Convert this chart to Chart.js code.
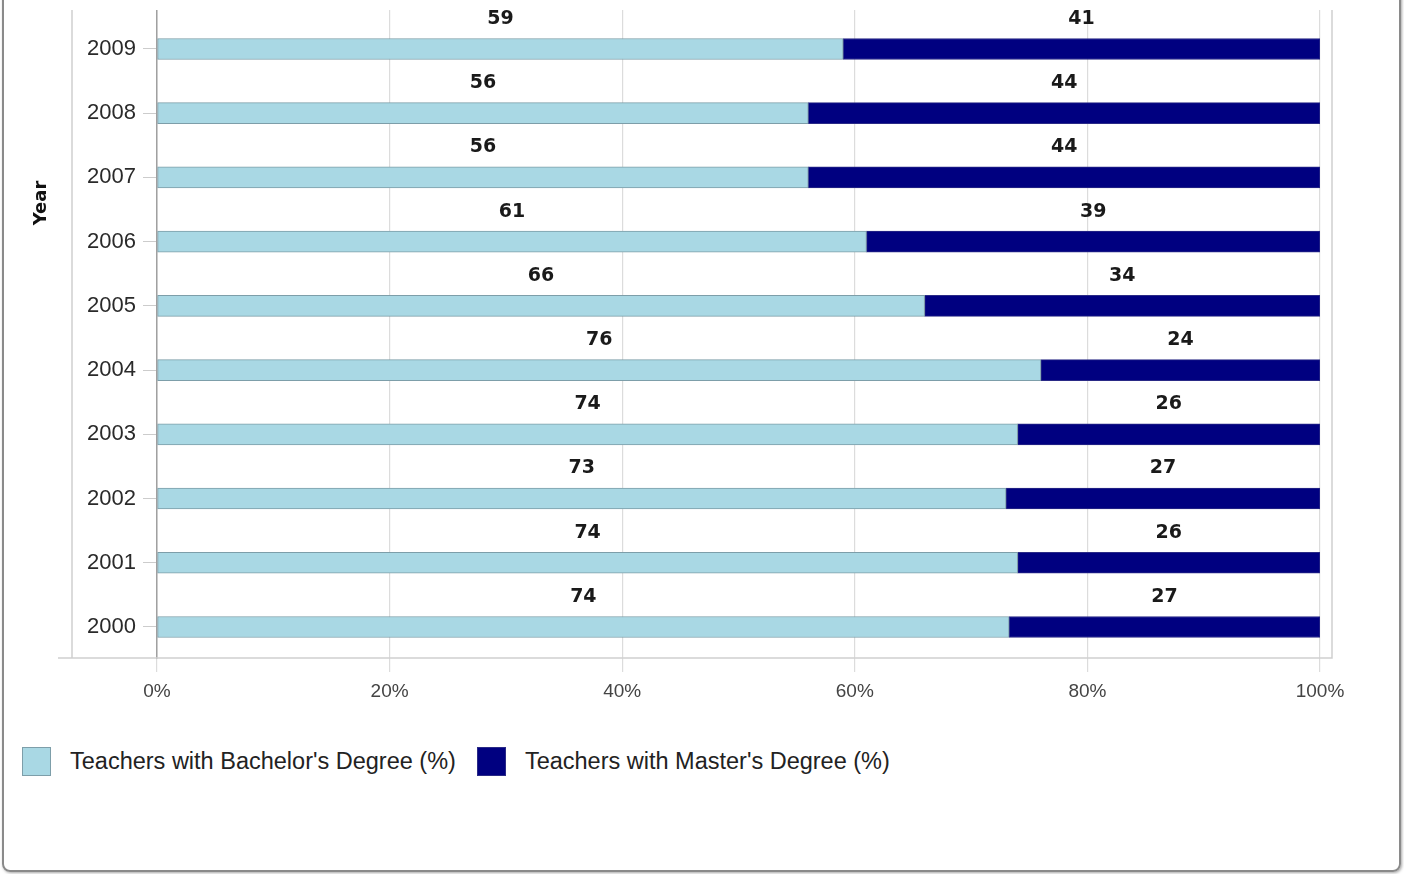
<!DOCTYPE html>
<html>
<head>
<meta charset="utf-8">
<script src="https://cdn.jsdelivr.net/npm/chart.js@4.4.0/dist/chart.umd.min.js"></script>
<style>
  html, body { margin: 0; padding: 0; background: #fff; width: 1404px; height: 874px; overflow: hidden; }
  #frame {
    position: absolute; left: 2px; top: -12px; width: 1399px; height: 884px;
    box-sizing: border-box; border: 2px solid #8a8a8a; border-radius: 8px;
    box-shadow: 1px 1px 3px rgba(0,0,0,0.35);
  }
  #wrap { position: absolute; left: 0; top: 10px; width: 1404px; height: 700px; }
  #legend {
    position: absolute; left: 22px; top: 747px; display: flex; align-items: center;
    font: 23.5px "Liberation Sans", Arial, sans-serif; color: #222;
  }
  .item { display: flex; align-items: center; margin-right: 21px; }
  .sw { width: 27px; height: 27px; margin-right: 19px; box-sizing: content-box; }
</style>
</head>
<body>
<div id="frame"></div>
<div id="wrap"><canvas id="c" width="1404" height="700"></canvas></div>
<div id="legend"></div>
<script>
// Share of teachers by highest degree, per year
const years = ['2000', '2001', '2002', '2003', '2004', '2005', '2006', '2007', '2008', '2009'];
const bachelor = [74, 74, 73, 74, 76, 66, 61, 56, 56, 59];
const master   = [27, 26, 27, 26, 24, 34, 39, 44, 44, 41];
const seriesNames = ["Teachers with Bachelor's Degree (%)", "Teachers with Master's Degree (%)"];
const xTicks = [0, 20, 40, 60, 80, 100];

// Each bar is stretched to 100%: a segment's length is its share of the year's total
function shares(values, other) {
  return values.map((v, i) => ({ x: v / (v + other[i]) * 100, y: i }));
}

const colors = {
  bachelor: { fill: '#a9d8e4', edge: '#7d9ea9' },
  master:   { fill: '#000080', edge: '#2a2a86' }
};

// Value labels sit above the middle of each segment
const valueLabels = {
  id: 'valueLabels',
  afterDatasetsDraw(chart) {
    const ctx = chart.ctx;
    const raw = [bachelor, master];
    ctx.save();
    ctx.font = 'bold 19px "DejaVu Sans", sans-serif';
    ctx.fillStyle = '#1a1a1a';
    ctx.textAlign = 'center';
    ctx.textBaseline = 'middle';
    chart.data.datasets.forEach((ds, d) => {
      chart.getDatasetMeta(d).data.forEach((bar, i) => {
        ctx.fillText(String(raw[d][i]), (bar.x + bar.base) / 2, bar.y - 30);
      });
    });
    ctx.restore();
  }
};

// Plot frame lines and the rotated "Year" axis title
const plotFrame = {
  id: 'plotFrame',
  beforeDatasetsDraw(chart) {
    const { ctx, chartArea: a } = chart;
    ctx.save();
    ctx.strokeStyle = '#cfcfcf';
    ctx.lineWidth = 1.5;
    ctx.beginPath();
    ctx.moveTo(a.left - 85, a.top);
    ctx.lineTo(a.left - 85, a.bottom);
    ctx.moveTo(a.left - 99, a.bottom);
    ctx.lineTo(a.right + 12, a.bottom);
    ctx.lineTo(a.right + 12, a.top);
    ctx.stroke();
    ctx.restore();
  },
  afterDraw(chart) {
    const { ctx, chartArea: a } = chart;
    ctx.save();
    ctx.translate(a.left - 116, a.top + 193);
    ctx.rotate(-Math.PI / 2);
    ctx.font = 'bold 18px "DejaVu Sans", sans-serif';
    ctx.fillStyle = '#111';
    ctx.textAlign = 'center';
    ctx.textBaseline = 'middle';
    ctx.fillText('Year', 0, 0);
    ctx.restore();
  }
};

const chart = new Chart(document.getElementById('c'), {
  type: 'bar',
  data: {
    datasets: [
      {
        label: seriesNames[0],
        data: shares(bachelor, master),
        backgroundColor: colors.bachelor.fill,
        borderColor: colors.bachelor.edge,
        borderWidth: 1,
        borderSkipped: false,
        barThickness: 21
      },
      {
        label: seriesNames[1],
        data: shares(master, bachelor),
        backgroundColor: colors.master.fill,
        borderColor: colors.master.edge,
        borderWidth: 1,
        borderSkipped: false,
        barThickness: 21
      }
    ]
  },
  options: {
    indexAxis: 'y',
    responsive: false,
    animation: false,
    devicePixelRatio: 1,
    layout: { padding: { left: 0, right: 84, top: 0, bottom: 0 } },
    plugins: { legend: { display: false }, tooltip: { enabled: false } },
    scales: {
      x: {
        type: 'linear',
        stacked: true,
        min: 0,
        max: 100,
        afterBuildTicks(scale) { scale.ticks = xTicks.map(v => ({ value: v })); },
        afterFit(scale) { scale.height = 52; scale.paddingLeft = 0; scale.paddingRight = 0; },
        ticks: {
          callback: v => v + '%',
          font: { family: '"Liberation Sans", Arial, sans-serif', size: 19 },
          color: '#444',
          padding: 8,
          maxRotation: 0
        },
        grid: { color: '#dcdcdc', tickLength: 14, lineWidth: 1.2 },
        border: { display: false }
      },
      y: {
        type: 'linear',
        stacked: true,
        offset: false,
        min: -0.483,
        max: 9.607,
        afterBuildTicks(scale) { scale.ticks = years.map((_, i) => ({ value: i })); },
        afterFit(scale) { scale.width = 157; scale.paddingTop = 0; scale.paddingBottom = 0; },
        ticks: {
          callback: v => years[v],
          font: { family: '"Liberation Sans", Arial, sans-serif', size: 22 },
          color: '#2a2a2a',
          padding: 7
        },
        grid: { drawOnChartArea: false, offset: false, color: '#cccccc', tickLength: 14 },
        border: { display: true, color: '#a0a0a0', width: 1.5 }
      }
    }
  },
  plugins: [valueLabels, plotFrame]
});

// Legend built from the chart's own datasets
const legend = document.getElementById('legend');
chart.data.datasets.forEach(ds => {
  const item = document.createElement('div');
  item.className = 'item';
  const sw = document.createElement('div');
  sw.className = 'sw';
  sw.style.background = ds.backgroundColor;
  sw.style.border = '1px solid ' + ds.borderColor;
  const txt = document.createElement('span');
  txt.textContent = ds.label;
  item.appendChild(sw);
  item.appendChild(txt);
  legend.appendChild(item);
});
</script>
</body>
</html>
